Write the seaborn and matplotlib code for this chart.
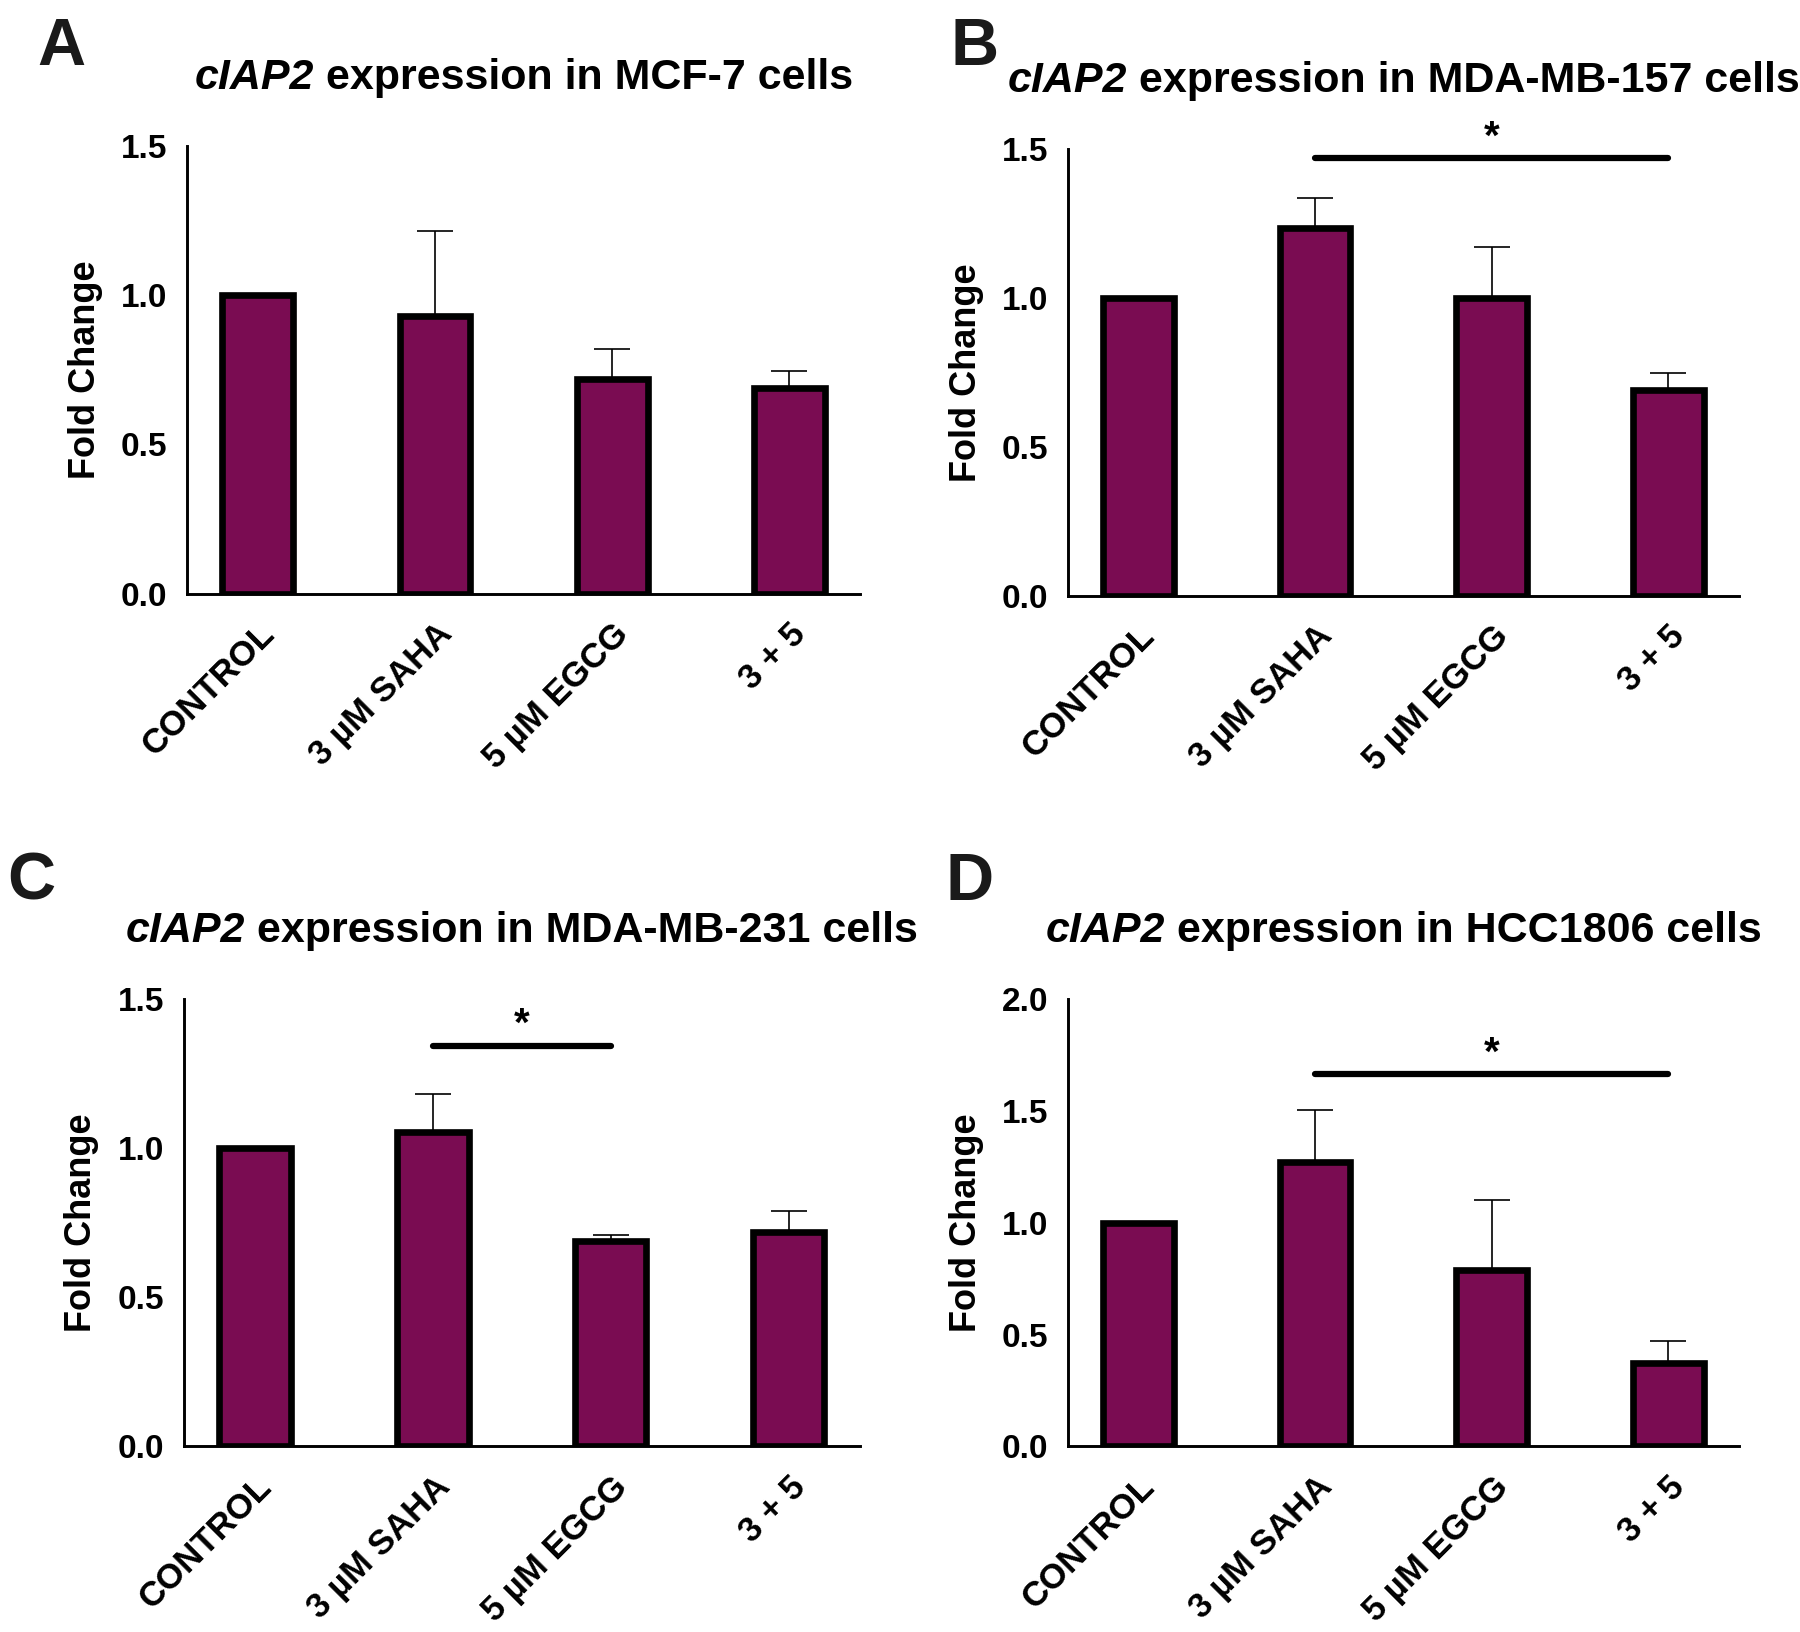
# plot.py - cIAP2 fold change, four cell lines (2x2 bar panels)

import numpy as np
import pandas as pd
import matplotlib
matplotlib.use("Agg")
import matplotlib.pyplot as plt
import matplotlib.transforms as mtransforms
import seaborn as sns

# ------------------------------------------------------------------
# Data
# ------------------------------------------------------------------
groups = ["CONTROL", "3 µM SAHA", "5 µM EGCG", "3 + 5"]

mcf7_mean = [1.0, 0.93, 0.72, 0.69]
mcf7_sem = [0.0, 0.285, 0.10, 0.055]

mb157_mean = [1.0, 1.235, 1.0, 0.69]
mb157_sem = [0.0, 0.10, 0.17, 0.06]

mb231_mean = [1.0, 1.055, 0.69, 0.72]
mb231_sem = [0.0, 0.125, 0.02, 0.07]

hcc1806_mean = [1.0, 1.27, 0.79, 0.375]
hcc1806_sem = [0.0, 0.235, 0.31, 0.095]

panel_letters = ["A", "B", "C", "D"]
cell_lines = ["MCF-7", "MDA-MB-157", "MDA-MB-231", "HCC1806"]
y_max = [1.5, 1.5, 1.5, 2.0]
sig_pairs = [None, (1, 3), (1, 2), (1, 3)]
sig_y = [None, 1.47, 1.343, 1.663]

means = [mcf7_mean, mb157_mean, mb231_mean, hcc1806_mean]
sems = [mcf7_sem, mb157_sem, mb231_sem, hcc1806_sem]

# ------------------------------------------------------------------
# Style
# ------------------------------------------------------------------
sns.set_style("white")
plt.rcParams["font.family"] = ["Liberation Sans", "DejaVu Sans"]
plt.rcParams["font.weight"] = "bold"
plt.rcParams["text.color"] = "black"
plt.rcParams["axes.labelcolor"] = "black"
plt.rcParams["xtick.color"] = "black"
plt.rcParams["ytick.color"] = "black"

BAR_COLOR = "#7A0C52"
DPI = 100

fig = plt.figure(figsize=(18, 16.32), dpi=DPI)

# axes boxes (left, bottom, width, height) in figure fractions
axes_pos = [
    (0.1039, 0.6363, 0.3739, 0.2744),
    (0.5931, 0.6349, 0.3730, 0.2737),
    (0.1021, 0.1137, 0.3757, 0.2743),
    (0.5931, 0.1137, 0.3730, 0.2743),
]
letter_pos = [(0.021, 0.960), (0.528, 0.960), (0.004, 0.449), (0.525, 0.4485)]

title_parts = []

for i in range(4):
    ax = fig.add_axes(axes_pos[i])
    df = pd.DataFrame({"group": groups, "fold": means[i]})

    sns.barplot(data=df, x="group", y="fold", color=BAR_COLOR,
                edgecolor="black", linewidth=4.8, width=0.40,
                errorbar=None, saturation=1, ax=ax)
    for p in ax.patches:
        p.set_facecolor(BAR_COLOR)
        p.set_zorder(2)

    # upper-only error bars, drawn beneath the bars
    x = np.arange(len(groups))
    sem = np.array(sems[i])
    keep = sem > 0
    ax.errorbar(x[keep], np.array(means[i])[keep],
                yerr=[np.zeros(keep.sum()), sem[keep]],
                fmt="none", ecolor="black", elinewidth=1.2,
                capsize=13, capthick=1.2, zorder=1)

    ax.set_xlim(-0.4, 3.4)
    ax.set_ylim(0, y_max[i])
    yt = np.arange(0, y_max[i] + 0.01, 0.5)
    ax.set_yticks(yt)
    ax.set_yticklabels([f"{v:.1f}" for v in yt], fontsize=24, fontweight="bold")
    ax.set_xticks(x)
    ax.set_xticklabels(groups, fontsize=25, fontweight="bold",
                       rotation=45, ha="right", va="top", rotation_mode="anchor")
    ax.tick_params(axis="x", length=13, width=2, pad=4, colors="black")
    ax.tick_params(axis="y", length=12, width=2, pad=2, colors="black")
    ax.set_xlabel("")
    ax.set_ylabel("Fold Change", fontsize=26, fontweight="bold", color="black")
    ax.yaxis.set_label_coords(-0.125, 0.5)

    sns.despine(ax=ax)
    for side in ["left", "bottom"]:
        ax.spines[side].set_linewidth(2.1)
        ax.spines[side].set_color("black")
        ax.spines[side].set_zorder(3)

    # significance bar
    if sig_pairs[i] is not None:
        a, b = sig_pairs[i]
        ax.plot([a, b], [sig_y[i], sig_y[i]], color="black", lw=4.5,
                solid_capstyle="round", clip_on=False, zorder=4)
        ax.annotate("*", xy=((a + b) / 2, sig_y[i]), xytext=(0, 1),
                    textcoords="offset points", ha="center", va="bottom",
                    fontsize=29, fontweight="bold", color="black",
                    annotation_clip=False)

    # title: italic gene name + bold rest
    t1 = ax.text(0.5, 1, "cIAP2", transform=ax.transAxes, fontsize=31,
                 fontweight="bold", style="italic", ha="left", va="baseline",
                 color="black")
    t2 = ax.text(0.5, 1, f" expression in {cell_lines[i]} cells",
                 transform=ax.transAxes, fontsize=31, fontweight="bold",
                 ha="left", va="baseline", color="black")
    title_parts.append((ax, t1, t2))

    fig.text(letter_pos[i][0], letter_pos[i][1], panel_letters[i],
             fontsize=48, fontweight="bold", ha="left", va="baseline",
             color="#1a1a1a")

# centre each two-part title above its axes
fig.canvas.draw()
renderer = fig.canvas.get_renderer()
for ax, t1, t2 in title_parts:
    w1 = t1.get_window_extent(renderer).width * 72 / DPI
    w2 = t2.get_window_extent(renderer).width * 72 / DPI
    start = -(w1 + w2) / 2
    t1.set_transform(mtransforms.offset_copy(ax.transAxes, fig=fig,
                                             x=start, y=41, units="points"))
    t2.set_transform(mtransforms.offset_copy(ax.transAxes, fig=fig,
                                             x=start + w1, y=41, units="points"))

fig.savefig("out.png", dpi=DPI)
